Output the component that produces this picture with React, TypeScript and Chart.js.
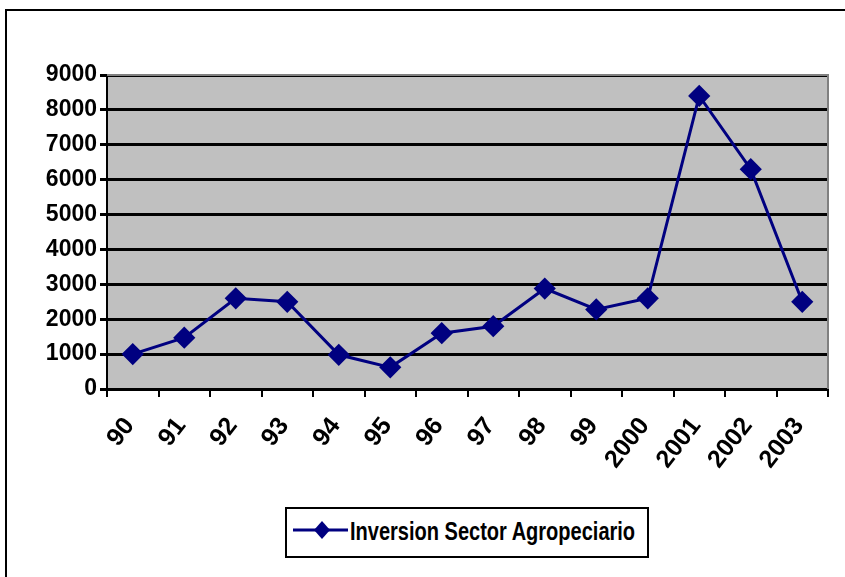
import React, { useEffect, useRef } from "react";
import { Chart, registerables } from "chart.js";

Chart.register(...registerables);

const categories = ["90", "91", "92", "93", "94", "95", "96", "97", "98", "99", "2000", "2001", "2002", "2003"];
const inversion = [1000, 1470, 2600, 2500, 980, 620, 1600, 1800, 2880, 2280, 2600, 8400, 6300, 2500];
const seriesLabel = "Inversion Sector Agropeciario";
const yMin = 0;
const yMax = 9000;
const yStep = 1000;

const NAVY = "#000080";
const FONT = "'Liberation Sans', Arial, sans-serif";

const plotBg = {
  id: "plotBg",
  beforeDraw(chart: any) {
    const { ctx, chartArea } = chart;
    if (!chartArea) return;
    ctx.save();
    ctx.fillStyle = "#C0C0C0";
    ctx.fillRect(chartArea.left, chartArea.top, chartArea.right - chartArea.left, chartArea.bottom - chartArea.top);
    ctx.restore();
  },
  afterDraw(chart: any) {
    const { ctx, chartArea } = chart;
    ctx.save();
    ctx.strokeStyle = "#808080";
    ctx.lineWidth = 2;
    ctx.beginPath();
    ctx.moveTo(chartArea.left, chartArea.top);
    ctx.lineTo(chartArea.right, chartArea.top);
    ctx.lineTo(chartArea.right, chartArea.bottom);
    ctx.stroke();
    ctx.restore();
  },
};

export default function App() {
  const ref = useRef<HTMLCanvasElement | null>(null);
  const textRef = useRef<HTMLSpanElement | null>(null);

  useEffect(() => {
    if (textRef.current) {
      const w = textRef.current.offsetWidth;
      if (w > 0) textRef.current.style.transform = `scaleX(${285 / w})`;
    }
    if (!ref.current) return;
    const chart = new Chart(ref.current, {
      type: "line",
      data: {
        labels: categories,
        datasets: [
          {
            label: seriesLabel,
            data: inversion,
            borderColor: NAVY,
            backgroundColor: NAVY,
            borderWidth: 3,
            pointStyle: "rectRot",
            pointRadius: 9,
            pointBackgroundColor: NAVY,
            pointBorderColor: NAVY,
            tension: 0,
          },
        ],
      },
      options: {
        animation: false,
        responsive: false,
        maintainAspectRatio: false,
        layout: { padding: { left: 0, top: 75, right: 17, bottom: 0 } },
        plugins: { legend: { display: false }, tooltip: { enabled: false } },
        scales: {
          x: {
            offset: true,
            grid: { offset: true, drawOnChartArea: false, drawTicks: true, tickLength: 8, color: "#000", lineWidth: 2 },
            border: { display: true, color: "#000", width: 3 },
            ticks: {
              color: "#000",
              font: { family: FONT, size: 25, weight: "bold" },
              minRotation: 52,
              maxRotation: 52,
              autoSkip: false,
              padding: 15,
              labelOffset: -3,
            },
            afterFit(scale: any) {
              scale.height = 577 - 389;
            },
          },
          y: {
            min: yMin,
            max: yMax,
            grid: { color: "#000", lineWidth: 3, tickLength: 7, drawTicks: true },
            border: { display: true, color: "#000", width: 2 },
            ticks: {
              stepSize: yStep,
              color: "#000",
              font: { family: FONT, size: 23, weight: "bold" },
              padding: 3,
              callback: (v: any) => String(v),
            },
            afterFit(scale: any) {
              scale.width = 107;
            },
          },
        },
      },
      plugins: [plotBg],
    });
    return () => chart.destroy();
  }, []);

  return (
    <div style={{ position: "fixed", left: 0, top: 0, width: 845, height: 577, background: "#fff", overflow: "hidden" }}>
      <div
        style={{
          position: "absolute",
          left: 5,
          top: 9,
          width: 860,
          height: 600,
          border: "2px solid #000",
          boxSizing: "border-box",
        }}
      />
      <canvas ref={ref} width={845} height={577} style={{ position: "absolute", left: 0, top: 0 }} />
      <div
        style={{
          position: "absolute",
          left: 285,
          top: 507,
          width: 364,
          height: 51,
          border: "2px solid #000",
          boxSizing: "border-box",
          background: "#fff",
        }}
      >
        <svg width={60} height={26} style={{ position: "absolute", left: 5, top: 8 }}>
          <line x1={1} y1={13} x2={56} y2={13} stroke={NAVY} strokeWidth={3} />
          <polygon points="30,4 38,13 30,22 22,13" fill={NAVY} />
        </svg>
        <span
          ref={textRef}
          style={{
            position: "absolute",
            left: 63,
            top: 7,
            display: "inline-block",
            transformOrigin: "0 50%",
            fontFamily: FONT,
            fontWeight: "bold",
            fontSize: 25,
            lineHeight: "30px",
            color: "#000",
            whiteSpace: "nowrap",
          }}
        >
          {seriesLabel}
        </span>
      </div>
    </div>
  );
}
